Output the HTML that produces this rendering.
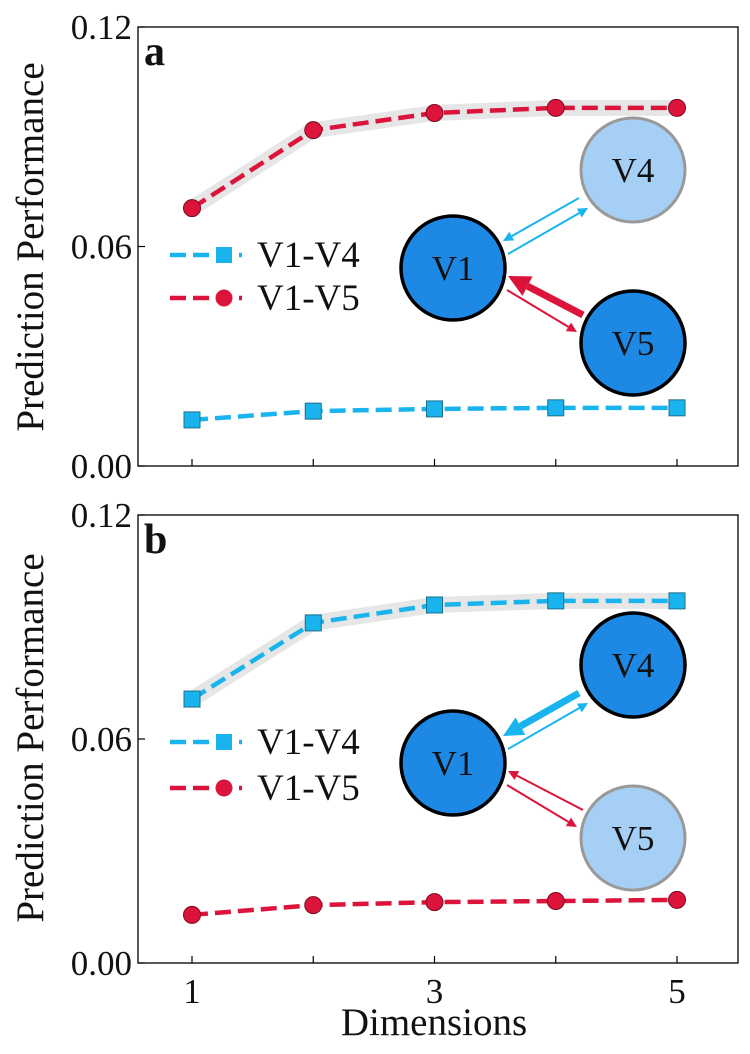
<!DOCTYPE html>
<html><head><meta charset="utf-8"><style>
body{margin:0;background:#fff}
svg text{font-family:"Liberation Serif",serif;fill:#111}
</style></head><body>
<svg id="chart" width="750" height="1049" viewBox="0 0 750 1049" xmlns="http://www.w3.org/2000/svg">
<g id="plots"></g>
<text x="0" y="0" font-size="39" text-anchor="middle" transform="translate(43,247) rotate(-90)">Prediction Performance</text>
<text x="0" y="0" font-size="39" text-anchor="middle" transform="translate(43,738) rotate(-90)">Prediction Performance</text>
<text x="434" y="1035" font-size="39" text-anchor="middle">Dimensions</text>
</svg>
<script>
const dims=[1,2,3,4,5];
const yTicks=[0,0.06,0.12];
const yTickLabels=["0.00","0.06","0.12"];
const xTickLabels=["1","3","5"];
const aV4=[0.0126,0.0150,0.0156,0.0159,0.0159];
const aV5=[0.0705,0.0918,0.0965,0.0979,0.0979];
const bV4=[0.0707,0.0911,0.0959,0.0970,0.0970];
const bV5=[0.0129,0.0155,0.0163,0.0166,0.0169];
const NS="http://www.w3.org/2000/svg";
const root=document.getElementById('plots');
function mk(tag,attrs,parent){const e=document.createElementNS(NS,tag);for(const k in attrs)e.setAttribute(k,attrs[k]);(parent||root).appendChild(e);return e;}
const BLUE="#19b4ee",RED="#dc143c";
function panel(p){
  const L=138,R=738,T=p.top,B=p.bot;
  const x=v=>192+(v-1)*121.25;
  const y=v=>B-(v/0.12)*(B-T);
  const g=mk('g',{});
  
  
  const fr=mk('rect',{x:L,y:T,width:R-L,height:B-T,fill:'none',stroke:'#000','stroke-width':1.3},g);
  
  
  yTicks.forEach((t,i)=>{
    const tk=mk('line',{x1:L,x2:L+7,y1:y(t),y2:y(t),stroke:'#000','stroke-width':1.2},g);
    
    
    const tl=mk('text',{x:L-6,y:y(t)+12,'font-size':35,'text-anchor':'end'},g);
    tl.textContent=yTickLabels[i];
    
    
  });
  dims.forEach(d=>{
    const tk=mk('line',{x1:x(d),x2:x(d),y1:B,y2:B-7,stroke:'#000','stroke-width':1.2},g);
    
    
  });
  if(p.id==='b'){
    xTickLabels.forEach(l=>{
      const tl=mk('text',{x:x(+l),y:B+40,'font-size':35,'text-anchor':'middle'},g);
      tl.textContent=l;
      
      
    });
  }
  const lab=mk('text',{x:L+6,y:T+38,'font-size':42,'font-weight':'bold'},g);
  lab.textContent=p.id;
  
  
  const series=[{v:p.v4,c:BLUE,m:'sq',n:'V1-V4'},{v:p.v5,c:RED,m:'ci',n:'V1-V5'}];
  series.forEach(s=>{
    const pts=dims.map((d,i)=>x(d)+','+y(s.v[i])).join(' ');
    if(s.v[4]>0.05){
      const band=mk('polyline',{points:pts,fill:'none',stroke:'#e6e6e6','stroke-width':16,'stroke-linejoin':'round','stroke-linecap':'round'},g);
      
      
    }
    const ln=mk('polyline',{points:pts,fill:'none',stroke:s.c,'stroke-width':4.5,'stroke-dasharray':'16,7'},g);
    
    
    dims.forEach((d,i)=>{
      let m;
      if(s.m==='sq') m=mk('rect',{x:x(d)-8,y:y(s.v[i])-8,width:16,height:16,fill:s.c,stroke:'#1a6f8f','stroke-width':1},g);
      else m=mk('circle',{cx:x(d),cy:y(s.v[i]),r:8.5,fill:s.c,stroke:'#7a0a20','stroke-width':1},g);
      
      
    });
  });
  [[BLUE,'sq','V1-V4',p.leg[0]],[RED,'ci','V1-V5',p.leg[1]]].forEach(([c,m,n,ly])=>{
    const lg=mk('line',{x1:170,x2:242,y1:ly,y2:ly,stroke:c,'stroke-width':4.5,'stroke-dasharray':'16,7'},g);
    
    
    let mm= m==='sq'?mk('rect',{x:216,y:ly-8,width:16,height:16,fill:c},g):mk('circle',{cx:224,cy:ly,r:8.5,fill:c},g);
    
    
    const t=mk('text',{x:257,y:ly+12,'font-size':37},g);
    t.textContent=n;
    
    
  });
  const o=p.off;
  const nodes=[['V1',453,268,true],['V4',633,170,p.id==='b'],['V5',633,343,p.id==='a']];
  function arrow(x1,y1,x2,y2,c,w,hl,hw,name){
    const dx=x2-x1,dy=y2-y1,len=Math.hypot(dx,dy),ux=dx/len,uy=dy/len;
    const bx=x2-ux*hl,by=y2-uy*hl;
    const a=mk('line',{x1:x1,y1:y1+o,x2:bx,y2:by+o,stroke:c,'stroke-width':w},g);
    
    
    const h=mk('polygon',{points:`${x2},${y2+o} ${bx-uy*hw},${by+ux*hw+o} ${bx+uy*hw},${by-ux*hw+o}`,fill:c},g);
    
    
  }
  const thickB=p.id==='b', thickR=p.id==='a';
  arrow(579,198,503,241,BLUE,thickB?7:2,thickB?20:10,thickB?10:5,'arrow-v4-to-v1');
  arrow(508,254,588,208,BLUE,2,10,5,'arrow-v1-to-v4');
  arrow(583,315,508,276,RED,thickR?7:2,thickR?22:10,thickR?11:5,'arrow-v5-to-v1');
  arrow(507,290,577,332,RED,2,10,5,'arrow-v1-to-v5');
  nodes.forEach(([n,cx,cy,act])=>{
    const c=mk('circle',{cx:cx,cy:cy+o,r:52,fill:act?'#1e88e5':'#a5cff5',stroke:act?'#000':'#999','stroke-width':act?3.5:3},g);
    
    
    const t=mk('text',{x:cx,y:cy+o+12,'font-size':35,'text-anchor':'middle'},g);
    t.textContent=n;
    
    
  });
}
panel({id:'a',top:27,bot:466,v4:aV4,v5:aV5,leg:[255,298],off:0});
panel({id:'b',top:515,bot:963,v4:bV4,v5:bV5,leg:[742,788],off:495});
</script>
</body></html>
